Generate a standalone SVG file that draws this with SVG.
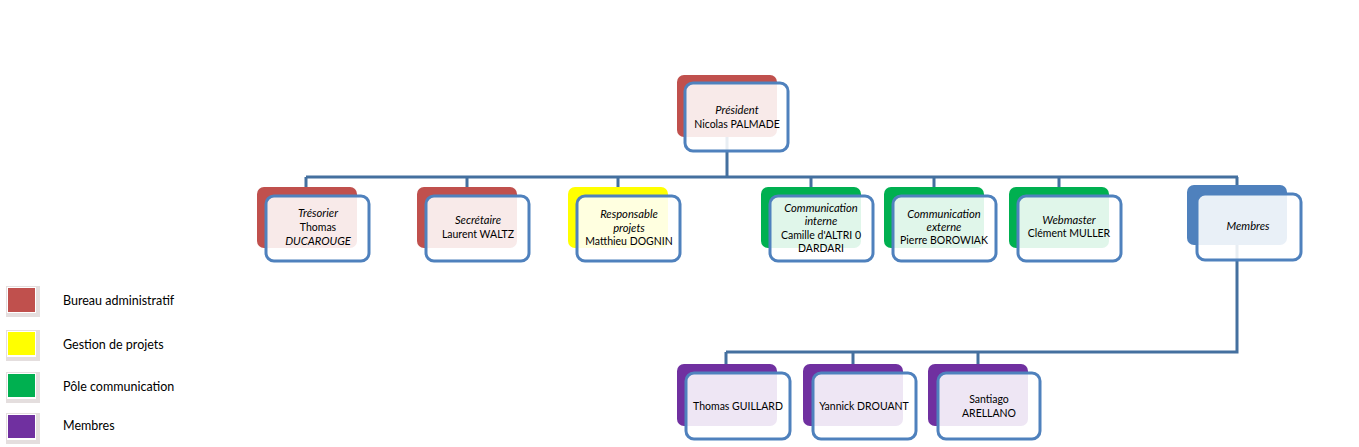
<svg xmlns="http://www.w3.org/2000/svg" width="1359" height="447" viewBox="0 0 1359 447">
<style>
.bg{fill:#fff}
.back{stroke:none}
.red{fill:#C0504D}.yel{fill:#FFFF00}.grn{fill:#00B050}.blu{fill:#4F81BD}.pur{fill:#7030A0}
.front{fill:#fff;fill-opacity:0.88;stroke:#4F81BD;stroke-width:3}
.conn{fill:none;stroke:#44709F;stroke-width:3}
text{font-family:Lato,"Open Sans","Liberation Sans",sans-serif;font-size:10.5px;fill:#000;text-anchor:middle}
.i{font-style:italic;font-size:11.2px}
.leg{font-size:12.5px;text-anchor:start}
.sh{fill:#e4dede}
</style>
<rect class="bg" x="0" y="0" width="1359" height="447"/>
<g id="connectors">
<path class="conn" d="M727 137V177M306 177H1238M306 177V187M467 177V187M618 177V187M811 177V187M934 177V187M1059 177V187M1237 177V187"/>
<path class="conn" d="M1237 245V352H726M726 352V364M853 352V364M978 352V364"/>
</g>
<g id="n-president"><rect class="back red" x="677" y="75" width="100" height="62" rx="7"/><rect class="front" x="685" y="83" width="103" height="68" rx="8"/><text x="737" y="114" class="i">Président</text><text x="737" y="128">Nicolas PALMADE</text></g>
<g id="n-tresorier"><rect class="back red" x="257" y="187" width="100" height="61" rx="7"/><rect class="front" x="266" y="196" width="103" height="65" rx="8"/><text x="318" y="217" class="i">Trésorier</text><text x="318" y="231">Thomas</text><text x="318" y="245" class="i">DUCAROUGE</text></g>
<g id="n-secretaire"><rect class="back red" x="417" y="187" width="100" height="61" rx="7"/><rect class="front" x="426" y="196" width="103" height="65" rx="8"/><text x="478" y="224" class="i">Secrétaire</text><text x="478" y="238">Laurent WALTZ</text></g>
<g id="n-responsable"><rect class="back yel" x="568" y="187" width="100" height="61" rx="7"/><rect class="front" x="577" y="196" width="103" height="65" rx="8"/><text x="629" y="218" class="i">Responsable</text><text x="629" y="232" class="i">projets</text><text x="629" y="245">Matthieu DOGNIN</text></g>
<g id="n-comm-interne"><rect class="back grn" x="761" y="187" width="100" height="61" rx="7"/><rect class="front" x="770" y="196" width="103" height="65" rx="8"/><text x="821" y="212" class="i">Communication</text><text x="821" y="225" class="i">interne</text><text x="821" y="239">Camille d'ALTRI 0</text><text x="821" y="252">DARDARI</text></g>
<g id="n-comm-externe"><rect class="back grn" x="884" y="187" width="100" height="61" rx="7"/><rect class="front" x="893" y="196" width="103" height="65" rx="8"/><text x="944" y="218" class="i">Communication</text><text x="944" y="231" class="i">externe</text><text x="944" y="244">Pierre BOROWIAK</text></g>
<g id="n-webmaster"><rect class="back grn" x="1009" y="187" width="100" height="61" rx="7"/><rect class="front" x="1018" y="196" width="103" height="65" rx="8"/><text x="1069" y="224" class="i">Webmaster</text><text x="1069" y="237">Clément MULLER</text></g>
<g id="n-membres"><rect class="back blu" x="1187" y="185" width="100" height="60" rx="7"/><rect class="front" x="1197" y="194" width="104" height="66" rx="8"/><text x="1248" y="230" class="i">Membres</text></g>
<g id="n-guillard"><rect class="back pur" x="677" y="364" width="100" height="62" rx="7"/><rect class="front" x="686" y="373" width="104" height="66" rx="8"/><text x="738" y="410">Thomas GUILLARD</text></g>
<g id="n-drouant"><rect class="back pur" x="803" y="364" width="100" height="62" rx="7"/><rect class="front" x="813" y="373" width="103" height="66" rx="8"/><text x="864" y="410">Yannick DROUANT</text></g>
<g id="n-arellano"><rect class="back pur" x="928" y="364" width="100" height="62" rx="7"/><rect class="front" x="938" y="373" width="102" height="66" rx="8"/><text x="989" y="403">Santiago</text><text x="989" y="417">ARELLANO</text></g>
<g id="legend">
<rect class="sh" x="6" y="286" width="34" height="31"/><rect fill="#fff" x="7" y="287" width="29" height="26"/><rect class="red" x="8" y="288" width="27" height="24"/>
<text class="leg" x="63" y="305">Bureau administratif</text>
<rect class="sh" x="6" y="330" width="34" height="31"/><rect fill="#fff" x="7" y="331" width="29" height="26"/><rect class="yel" x="8" y="332" width="27" height="23"/>
<text class="leg" x="63" y="349">Gestion de projets</text>
<rect class="sh" x="6" y="372" width="34" height="31"/><rect fill="#fff" x="7" y="373" width="29" height="26"/><rect class="grn" x="8" y="374" width="27" height="23"/>
<text class="leg" x="63" y="391">Pôle communication</text>
<rect class="sh" x="6" y="413" width="34" height="31"/><rect fill="#fff" x="7" y="414" width="29" height="26"/><rect class="pur" x="8" y="415" width="27" height="23"/>
<text class="leg" x="63" y="430">Membres</text>
</g>
</svg>
